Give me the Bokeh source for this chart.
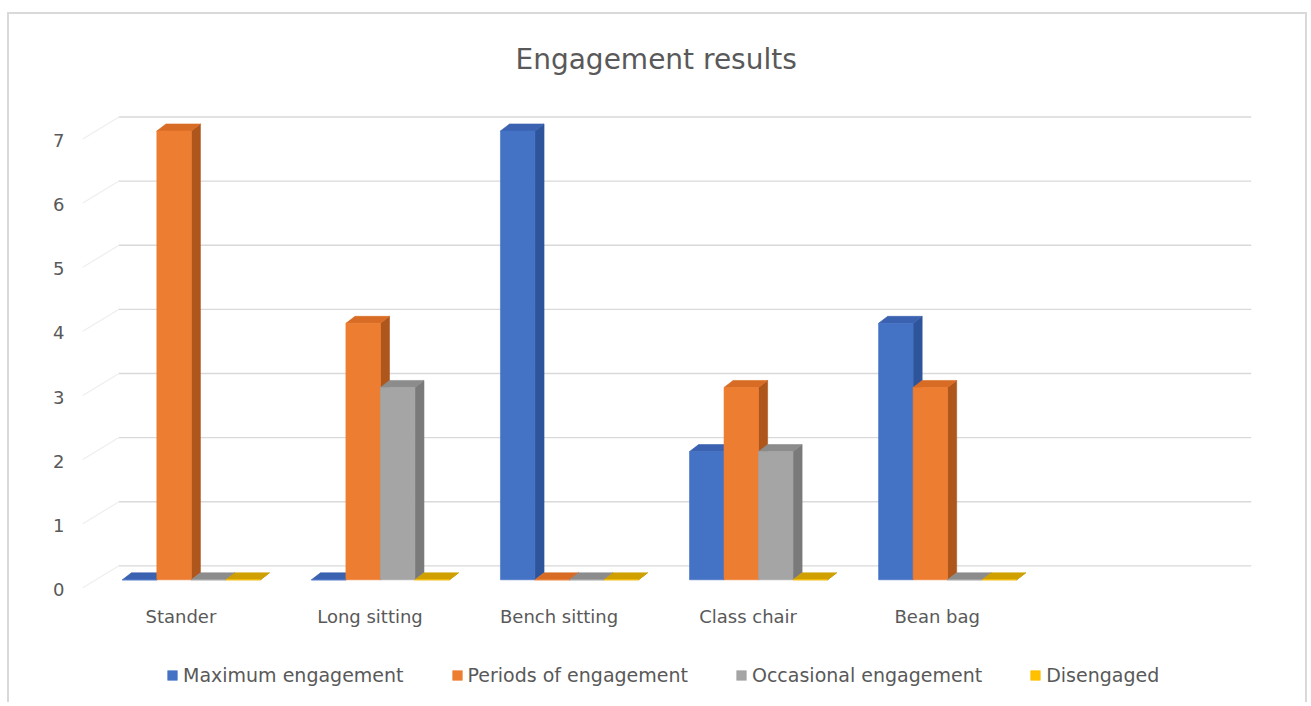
from bokeh.plotting import figure
from bokeh.models import Range1d, FixedTicker, Legend, LegendItem
from bokeh.embed import file_html
from bokeh.resources import INLINE

# ---------------- data ----------------
categories = ["Stander", "Long sitting", "Bench sitting", "Class chair", "Bean bag"]
series_names = ["Maximum engagement", "Periods of engagement",
                "Occasional engagement", "Disengaged"]
maximum_engagement = [0, 0, 7, 2, 4]
periods_of_engagement = [7, 4, 0, 3, 3]
occasional_engagement = [0, 3, 0, 2, 0]
disengaged = [0, 0, 0, 0, 0]
y_tick_values = [0, 1, 2, 3, 4, 5, 6, 7]
chart_title = "Engagement results"

series_values = [maximum_engagement, periods_of_engagement,
                 occasional_engagement, disengaged]

# ---------------- style ----------------
front_colors = ["#4472C4", "#ED7D31", "#A5A5A5", "#FFC000"]
side_colors = ["#2E549C", "#AE561C", "#7A7A7A", "#BF9000"]
top_colors = ["#3A62B0", "#D86C24", "#8C8C8C", "#CFA000"]
TEXT = "#595959"
FONT = "DejaVu Sans"

BAR_W = 0.1825        # front face width (x units)
GROUP_SHIFT = 0.055   # 3D: group drawn slightly right of its label
DX, DY = 0.048, 0.109  # bar depth offset
BACK_X0, BACK_X1, BACK_DY = -0.328, 5.661, 0.218   # back wall
WALL_X0, WALL_DY = -0.519, -0.125                  # front edge of side wall
LABEL_DY = -0.15
XAXIS_AT = -0.265

p = figure(width=1300, height=690, output_backend="svg", toolbar_location=None,
           x_range=Range1d(-0.6, 5.8), y_range=Range1d(-1.82, 7.6),
           min_border_left=58, min_border_right=32,
           min_border_top=78, min_border_bottom=8,
           background_fill_color="white", border_fill_color="white",
           styles={"margin-left": "7px", "margin-top": "12px",
                   "border-left": "2px solid #D9D9D9",
                   "border-top": "2px solid #D9D9D9",
                   "border-right": "2px solid #D9D9D9"})
p.outline_line_color = None
p.xgrid.visible = False
p.ygrid.visible = False

# back-wall gridlines and faint side-wall lines
p.segment(x0=[BACK_X0] * len(y_tick_values), x1=[BACK_X1] * len(y_tick_values),
          y0=[v + BACK_DY for v in y_tick_values], y1=[v + BACK_DY for v in y_tick_values],
          line_color="#D9D9D9", line_width=1.4)
p.segment(x0=[WALL_X0] * len(y_tick_values), x1=[BACK_X0] * len(y_tick_values),
          y0=[v + WALL_DY for v in y_tick_values], y1=[v + BACK_DY for v in y_tick_values],
          line_color="#EEEEEE", line_width=1.2)

# 3D bars
legend_items = []
for s, (name, vals) in enumerate(zip(series_names, series_values)):
    lefts = [i + GROUP_SHIFT - 2 * BAR_W + s * BAR_W for i in range(len(categories))]
    rights = [l + BAR_W for l in lefts]
    side_xs = [[r, r + DX, r + DX, r] for r in rights]
    side_ys = [[0, DY, v + DY, v] for v in vals]
    top_xs = [[l, r, r + DX, l + DX] for l, r in zip(lefts, rights)]
    top_ys = [[v, v, v + DY, v + DY] for v in vals]
    p.patches(xs=side_xs, ys=side_ys, fill_color=side_colors[s],
              line_color=side_colors[s], line_width=0.6)
    p.patches(xs=top_xs, ys=top_ys, fill_color=top_colors[s],
              line_color=top_colors[s], line_width=0.6)
    front = p.quad(left=lefts, right=rights, bottom=[0] * len(vals), top=vals,
                   fill_color=front_colors[s], line_color=front_colors[s], line_width=0.6)
    legend_items.append(LegendItem(label=name, renderers=[front]))

# axes
p.xaxis.ticker = FixedTicker(ticks=list(range(len(categories))))
p.xaxis.major_label_overrides = {i: c for i, c in enumerate(categories)}
p.xaxis.fixed_location = XAXIS_AT
p.yaxis.ticker = FixedTicker(ticks=[v + LABEL_DY for v in y_tick_values])
p.yaxis.major_label_overrides = {v + LABEL_DY: str(v) for v in y_tick_values}
for ax in (p.xaxis, p.yaxis):
    ax.axis_line_color = None
    ax.major_tick_line_color = None
    ax.minor_tick_line_color = None
    ax.major_label_text_font = FONT
    ax.major_label_text_font_size = "18px"
    ax.major_label_text_color = TEXT
p.xaxis.major_label_standoff = 3
p.yaxis.major_label_standoff = -3

# title
p.title.text = chart_title
p.title.text_font = FONT
p.title.text_font_size = "28px"
p.title.text_font_style = "normal"
p.title.text_color = TEXT
p.title.align = "left"
p.title.offset = 448
p.title.standoff = 33

# legend under the bars
legend = Legend(items=legend_items, orientation="horizontal", location=(99, 10),
                glyph_width=12, glyph_height=12, label_standoff=5, spacing=47,
                padding=0, margin=0, border_line_color=None, background_fill_alpha=0,
                label_text_font=FONT, label_text_font_size="19px",
                label_text_color=TEXT)
p.add_layout(legend)

open("out.html", "w").write(file_html(p, INLINE))
